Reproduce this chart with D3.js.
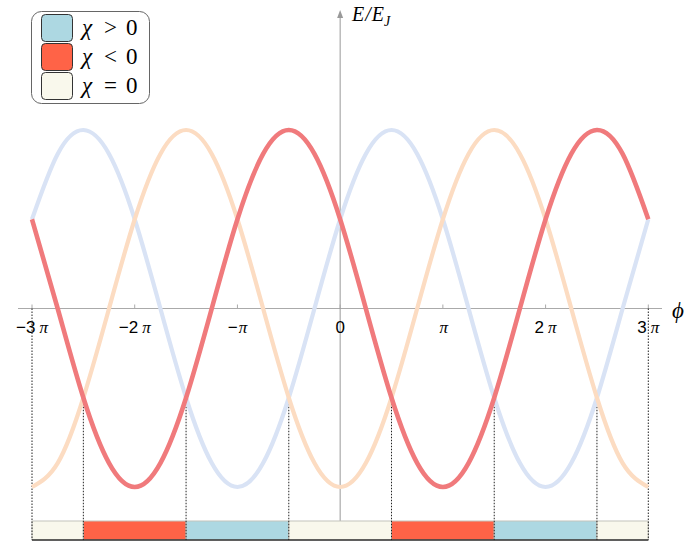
<!DOCTYPE html>
<html>
<head>
<meta charset="utf-8">
<script src="https://cdn.jsdelivr.net/npm/d3@7"></script>
<style>
  html, body { margin: 0; padding: 0; background: #fff; }
  svg { display: block; }
</style>
</head>
<body>
<div id="chart"></div>
<script>
// ── Layout (686×546 canvas)
const W = 686, H = 546;
const X0 = 32, X1 = 648.3;      // -3π .. 3π
const Y_TOP = 130, Y_BOT = 487; // E = 1 .. -1
const BAR_Y = 521, BAR_H = 19;

// ── Data: phase in units of π (steps of π/4), energies in units of E_J
const phi = [-3, -2.75, -2.5, -2.25, -2, -1.75, -1.5, -1.25, -1, -0.75, -0.5, -0.25,
  0, 0.25, 0.5, 0.75, 1, 1.25, 1.5, 1.75, 2, 2.25, 2.5, 2.75, 3];
const energyRed = [0.5, 0, -0.5, -0.866, -1, -0.866, -0.5, 0, 0.5, 0.866, 1, 0.866,
  0.5, 0, -0.5, -0.866, -1, -0.866, -0.5, 0, 0.5, 0.866, 1, 0.866, 0.5];
const energyBlue = [0.5, 0.866, 1, 0.866, 0.5, 0, -0.5, -0.866, -1, -0.866, -0.5, 0,
  0.5, 0.866, 1, 0.866, 0.5, 0, -0.5, -0.866, -1, -0.866, -0.5, 0, 0.5];
const energyOrange = [-1, -0.866, -0.5, 0, 0.5, 0.866, 1, 0.866, 0.5, 0, -0.5, -0.866,
  -1, -0.866, -0.5, 0, 0.5, 0.866, 1, 0.866, 0.5, 0, -0.5, -0.866, -1];

const tickValues = [-3, -2, -1, 0, 1, 2, 3];
const tickNum = ['−3', '−2', '−', '0', '', '2', '3'];
const tickPi = [true, true, true, false, true, true, true];

// chirality bands along φ
const bandEdges = [-3, -2.5, -1.5, -0.5, 0.5, 1.5, 2.5, 3];
const bandState = ['zero', 'neg', 'pos', 'zero', 'neg', 'pos', 'zero'];
const dropFrom = [0, -0.5, -0.5, -0.5, -0.5, -0.5, -0.5, 0];

const legendKeys = ['pos', 'neg', 'zero'];
const legendOps = ['>', '<', '='];

const STATE_COLORS = { pos: '#ADD8E2', neg: '#FF6347', zero: '#F9F8EC' };
const SERIF = '"Liberation Serif", "Times New Roman", serif';
const SANS = '"Liberation Sans", Arial, sans-serif';

const svg = d3.select('#chart').append('svg')
  .attr('width', W).attr('height', H);

const x = d3.scaleLinear().domain([-3, 3]).range([X0, X1]);
const y = d3.scaleLinear().domain([-1, 1]).range([Y_BOT, Y_TOP]);

// ── Axes
const axisG = svg.append('g');
axisG.append('line')
  .attr('x1', 18).attr('x2', 662)
  .attr('y1', y(0)).attr('y2', y(0))
  .attr('stroke', '#aaa').attr('stroke-width', 1);

axisG.append('line')
  .attr('x1', x(0)).attr('x2', x(0))
  .attr('y1', 16).attr('y2', BAR_Y)
  .attr('stroke', '#999').attr('stroke-width', 1);

axisG.append('path')
  .attr('d', `M${x(0)},10 L${x(0) - 3},18 L${x(0) + 3},18 Z`)
  .attr('fill', '#999');

tickValues.forEach((t, i) => {
  axisG.append('line')
    .attr('x1', x(t)).attr('x2', x(t))
    .attr('y1', y(0)).attr('y2', y(0) - 4)
    .attr('stroke', '#aaa');
  const lab = axisG.append('text')
    .attr('x', x(t)).attr('y', 333)
    .attr('text-anchor', 'middle')
    .attr('font-family', SANS).attr('font-size', 17)
    .attr('fill', '#000');
  lab.append('tspan').text(tickNum[i]);
  if (tickPi[i]) {
    lab.append('tspan')
      .attr('dx', /\d/.test(tickNum[i]) ? 4 : 1)
      .attr('font-family', SERIF).attr('font-style', 'italic')
      .text('π');
  }
});

svg.append('text')
  .attr('x', 672).attr('y', 318)
  .attr('font-family', SERIF).attr('font-style', 'italic').attr('font-size', 23)
  .text('ϕ');

const yLab = svg.append('text')
  .attr('x', 352).attr('y', 21)
  .attr('font-family', SERIF).attr('font-style', 'italic').attr('font-size', 20);
yLab.append('tspan').text('E');
yLab.append('tspan').attr('dx', 1).text('/');
yLab.append('tspan').attr('dx', 1).text('E');
yLab.append('tspan').attr('font-size', 14).attr('dy', 5).text('J');

// ── Bottom chirality bar
const barG = svg.append('g');
bandState.forEach((s, i) => {
  barG.append('rect')
    .attr('x', x(bandEdges[i])).attr('y', BAR_Y)
    .attr('width', x(bandEdges[i + 1]) - x(bandEdges[i])).attr('height', BAR_H)
    .attr('fill', STATE_COLORS[s])
    .attr('stroke', '#c4c4bc').attr('stroke-width', 1);
});
barG.append('line')
  .attr('x1', x(-3)).attr('x2', x(3))
  .attr('y1', BAR_Y + BAR_H).attr('y2', BAR_Y + BAR_H)
  .attr('stroke', '#333').attr('stroke-width', 1.3);

// ── Dotted drop lines at band edges
bandEdges.forEach((e, i) => {
  svg.append('line')
    .attr('x1', x(e)).attr('x2', x(e))
    .attr('y1', y(dropFrom[i])).attr('y2', BAR_Y + BAR_H)
    .attr('stroke', '#222').attr('stroke-width', 1)
    .attr('stroke-dasharray', '1.5,1.5');
});

// ── Energy curves
const line = d3.line()
  .x((d, i) => x(phi[i]))
  .y(d => y(d))
  .curve(d3.curveNatural);

[[energyBlue, '#D9E3F5', 4.2], [energyOrange, '#FCDCC2', 4.2], [energyRed, '#F07A7C', 4.6]]
  .forEach(([vals, col, w]) => {
    svg.append('path')
      .datum(vals)
      .attr('d', line)
      .attr('fill', 'none')
      .attr('stroke', col)
      .attr('stroke-width', w)
      .attr('stroke-linecap', 'butt');
  });

// ── Legend
const leg = svg.append('g');
leg.append('rect')
  .attr('x', 31.5).attr('y', 11.5).attr('width', 118).attr('height', 92)
  .attr('rx', 10)
  .attr('fill', '#fff').attr('stroke', '#666').attr('stroke-width', 1);

legendKeys.forEach((k, i) => {
  const top = 14 + i * 29;
  leg.append('rect')
    .attr('x', 41.5).attr('y', top + 0.5).attr('width', 31).attr('height', 27)
    .attr('rx', 4)
    .attr('fill', STATE_COLORS[k])
    .attr('stroke', '#333').attr('stroke-width', 1);
  const t = leg.append('text')
    .attr('y', top + 21)
    .attr('font-family', SERIF).attr('font-size', 23);
  t.append('tspan').attr('x', 82).attr('font-style', 'italic').text('χ');
  t.append('tspan').attr('x', 104).text(legendOps[i]);
  t.append('tspan').attr('x', 126).text('0');
});
</script>
</body>
</html>
